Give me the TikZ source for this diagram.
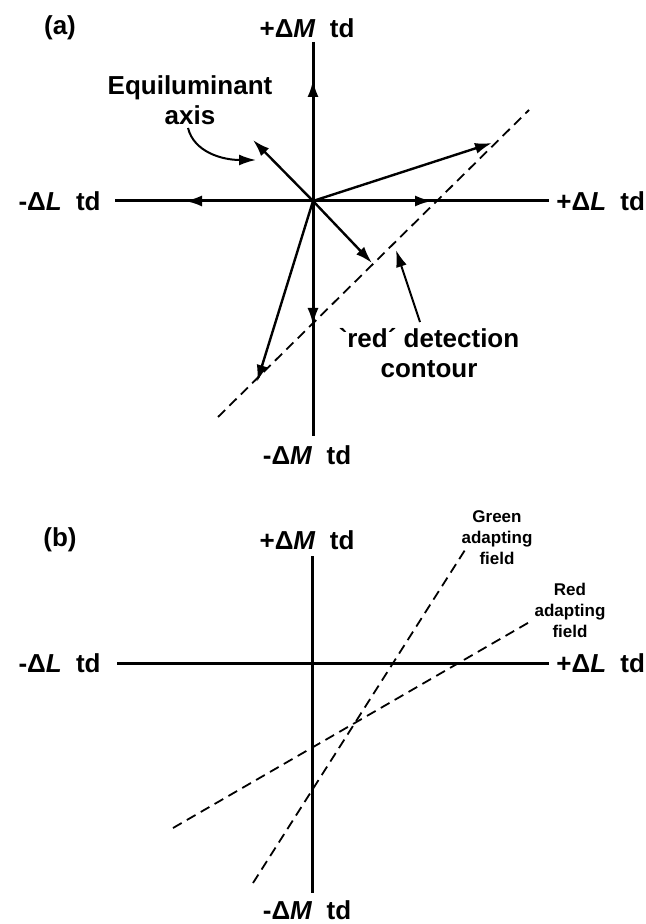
\documentclass[tikz,border=0pt]{standalone}
\usepackage{fontspec}
\setmainfont{Liberation Sans}
\usetikzlibrary{arrows.meta, positioning}

\tikzset{
  axis/.style={line width=1.5pt},
  vec/.style={line width=1.2pt, -{Latex[length=8.5pt,width=5.5pt]}},
  contour/.style={line width=0.9pt, dash pattern=on 5pt off 3pt},
  lbl/.style={font=\bfseries\fontsize{13}{15}\selectfont, inner sep=0pt, align=center},
  tag/.style={font=\bfseries\fontsize{8.5}{10.5}\selectfont, inner sep=0pt, align=center},
}
\newcommand{\dtd}[2]{#1Δ\textit{#2}\hspace{0.55em}td}

\begin{document}
\begin{tikzpicture}[x=0.5pt, y=-0.5pt]
        \useasboundingbox (0,0) rectangle (645,924);

        % panel (a)
        \node[lbl] (taga) at (60,28) {(a)};
        \coordinate (oa) at (313,201);
        \coordinate (na) at (313,42);
        \coordinate (sa) at (313,436);
        \coordinate (wa) at (115,201);
        \coordinate (ea) at (549,201);
        \draw[axis] (na) -- (sa);
        \draw[axis] (wa) -- (ea);
        \node[lbl] (pma) at (307,28) {\dtd{+}{M}};
        \node[lbl] (mma) at (307,455) {\dtd{-}{M}};
        \node[lbl, anchor=east] (mla) at (101,201) {\dtd{-}{L}};
        \node[lbl, anchor=west] (pla) at (556,201) {\dtd{+}{L}};

        \coordinate (upa) at (313,80);
        \coordinate (lfa) at (185,201);
        \coordinate (rta) at (432,201);
        \coordinate (dna) at (313,325);
        \coordinate (eqa) at (253,140);
        \coordinate (ura) at (492,143);
        \coordinate (dra) at (372,263);
        \coordinate (dla) at (257,382);
        \foreach \tip in {upa,lfa,rta,dna,eqa,ura,dra,dla}
          \draw[vec] (oa) -- (\tip);

        \coordinate (cta) at (218,417);
        \coordinate (ctb) at (529,110);
        \draw[contour] (cta) -- (ctb);

        \node[lbl] (equi) at (190,100) {Equiluminant\\axis};
        \coordinate (eqfrom) at (188,128);
        \coordinate (eqto) at (256,160);
        \draw[vec, line width=1pt] (eqfrom) .. controls (194,152) and (222,160) .. (eqto);

        \node[lbl] (redc) at (429,353) {\reflectbox{´}red´ detection\\contour};
        \coordinate (rdfrom) at (420,322);
        \coordinate (rdto) at (396,250);
        \draw[vec, line width=1pt] (rdfrom) -- (rdto);

        % panel (b)
        \node[lbl] (tagb) at (60,540) {(b)};
        \coordinate (ob) at (312,663);
        \coordinate (nb) at (312,556);
        \coordinate (sb) at (312,893);
        \coordinate (wb) at (117,663);
        \coordinate (eb) at (549,663);
        \draw[axis] (nb) -- (sb);
        \draw[axis] (wb) -- (eb);
        \node[lbl] (pmb) at (307,540) {\dtd{+}{M}};
        \node[lbl] (mmb) at (307,910) {\dtd{-}{M}};
        \node[lbl, anchor=east] (mlb) at (101,663) {\dtd{-}{L}};
        \node[lbl, anchor=west] (plb) at (556,663) {\dtd{+}{L}};

        \coordinate (gra) at (253,883);
        \coordinate (grb) at (465,550);
        \coordinate (rda) at (173,828);
        \coordinate (rdb) at (533,620);
        \draw[contour] (gra) -- (grb);
        \draw[contour] (rda) -- (rdb);

        \node[tag] (green) at (497,538) {Green\\adapting\\field};
        \node[tag] (red) at (570,610) {Red\\adapting\\field};
\end{tikzpicture}
\end{document}
